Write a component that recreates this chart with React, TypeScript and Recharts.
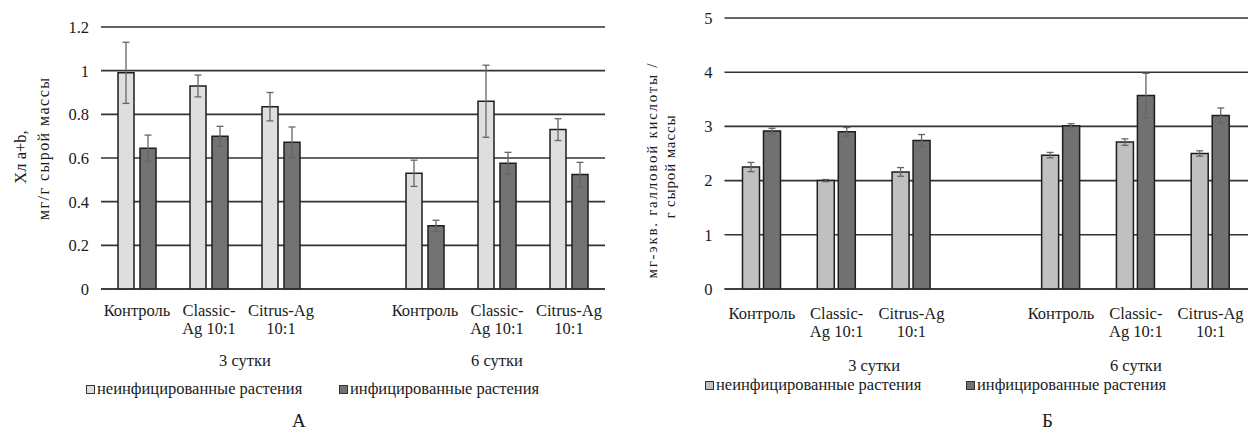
import React from "react";
import { BarChart, Bar, XAxis, YAxis, CartesianGrid, ErrorBar, Label } from "recharts";

// categories (index 3 is the empty spacer slot between the two days)
const tickLabels: string[][] = [
  ["Контроль"],
  ["Classic-", "Ag 10:1"],
  ["Citrus-Ag", "10:1"],
  [],
  ["Контроль"],
  ["Classic-", "Ag 10:1"],
  ["Citrus-Ag", "10:1"],
];
const groups = [
  { label: "3 сутки", from: 0, to: 3 },
  { label: "6 сутки", from: 4, to: 6 },
];
const seriesNames = ["неинфицированные растения", "инфицированные растения"];

// A: chlorophyll a+b, mg/g fresh mass
const chlUninf = [0.99, 0.93, 0.835, null, 0.53, 0.86, 0.73];
const chlUninfErr = [0.14, 0.05, 0.065, null, 0.06, 0.165, 0.05];
const chlInf = [0.645, 0.7, 0.672, null, 0.29, 0.576, 0.524];
const chlInfErr = [0.06, 0.045, 0.07, null, 0.025, 0.05, 0.056];
const chlTicks = [0, 0.2, 0.4, 0.6, 0.8, 1, 1.2];

// Б: phenolics, mg gallic acid eq / g fresh mass
const phUninf = [2.25, 2.0, 2.16, null, 2.47, 2.71, 2.5];
const phUninfErr = [0.085, 0.02, 0.08, null, 0.05, 0.06, 0.05];
const phInf = [2.915, 2.9, 2.74, null, 3.01, 3.57, 3.2];
const phInfErr = [0.05, 0.08, 0.11, null, 0.04, 0.41, 0.14];
const phTicks = [0, 1, 2, 3, 4, 5];

const FONT = "'Liberation Serif', 'Times New Roman', serif";
const TEXT = "#1a1a1a";
const GRID = "#333";
const FS = 16.5;

function rows(u: any[], ue: any[], i: any[], ie: any[]) {
  return tickLabels.map((_, k) => ({ cat: "c" + k, u: u[k], ue: ue[k], i: i[k], ie: ie[k] }));
}

function CatTick(props: any) {
  const { x, y, payload, band, shift = 0, groupShift = 0 } = props;
  const idx = parseInt(String(payload.value).slice(1), 10);
  const lines = tickLabels[idx] || [];
  const g = groups.find((gr) => Math.floor((gr.from + gr.to) / 2) === idx);
  return (
    <g fontFamily={FONT} fontSize={FS} fill={TEXT}>
      <text x={x} y={y + shift} textAnchor="middle">
        {lines.map((l, j) => (
          <tspan key={j} x={x} dy={j === 0 ? 19 : 18}>
            {l}
          </tspan>
        ))}
      </text>
      {g && (
        <text x={x + ((g.from + g.to) / 2 - idx) * band} y={y + 69 + groupShift} textAnchor="middle">
          {g.label}
        </text>
      )}
    </g>
  );
}

function YTitle({ viewBox, lines, offsets, centers, sizes, lengths }: any) {
  return (
    <g fontFamily={FONT} fill={TEXT}>
      {lines.map((l: string, j: number) => {
        const tx = viewBox.x + offsets[j];
        const cy = centers[j];
        return (
          <text key={j} x={tx} y={cy} fontSize={sizes[j]} textAnchor="middle" textLength={lengths[j]}
            transform={`rotate(-90 ${tx} ${cy})`}>
            {l}
          </text>
        );
      })}
    </g>
  );
}

function LegendRow({ top, lefts, colors }: { top: number; lefts: number[]; colors: string[] }) {
  return (
    <>
      {seriesNames.map((n, k) => (
        <div key={n} style={{ position: "absolute", left: lefts[k], top, display: "flex", alignItems: "center", fontFamily: FONT, fontSize: FS, color: TEXT, whiteSpace: "nowrap", lineHeight: "18px" }}>
          <span style={{ width: 7, height: 7, border: "1.3px solid #333", background: colors[k], marginRight: 2, display: "inline-block" }} />
          <span>{n}</span>
        </div>
      ))}
    </>
  );
}

const colorsA = ["#dedede", "#737373"];
const colorsB = ["#c0c0c0", "#717171"];

export default function App() {
  const dataA = rows(chlUninf, chlUninfErr, chlInf, chlInfErr);
  const dataB = rows(phUninf, phUninfErr, phInf, phInfErr);
  const bandA = 504 / 7;
  const bandB = 523.5 / 7;
  return (
    <div style={{ position: "absolute", left: 0, top: 0, width: 1248, height: 433, background: "#fff", overflow: "hidden" }}>
      <div style={{ position: "absolute", left: 0, top: 0 }}>
        <BarChart width={620} height={433} data={dataA} margin={{ top: 27, right: 15, left: 61, bottom: 64 }} barGap={6}>
          <CartesianGrid vertical={false} stroke={GRID} strokeWidth={1.6} />
          <XAxis dataKey="cat" interval={0} height={80} tickLine={false} axisLine={{ stroke: GRID, strokeWidth: 1.6 }} tick={<CatTick band={bandA} />} />
          <YAxis width={40} domain={[0, 1.2]} ticks={chlTicks} axisLine={false} tickLine={false} tickMargin={6}
            tick={{ fontFamily: FONT, fontSize: FS, fill: TEXT }}>
            <Label content={(p: any) => (
              <YTitle {...p} lines={["Хл a+b,", "мг/г сырой массы"]} offsets={[-35, -12]} centers={[157, 149]} sizes={[16.5, 16]} lengths={[undefined, 142]} />
            )} />
          </YAxis>
          <Bar dataKey="u" fill={colorsA[0]} stroke="#1e1e1e" strokeWidth={1.5} barSize={16} isAnimationActive={false}>
            <ErrorBar dataKey="ue" width={3.5} stroke="#666" strokeWidth={1.3} />
          </Bar>
          <Bar dataKey="i" fill={colorsA[1]} stroke="#1e1e1e" strokeWidth={1.5} barSize={16} isAnimationActive={false}>
            <ErrorBar dataKey="ie" width={3.5} stroke="#666" strokeWidth={1.3} />
          </Bar>
        </BarChart>
      </div>
      <div style={{ position: "absolute", left: 620, top: 0 }}>
        <BarChart width={628} height={433} data={dataB} margin={{ top: 18, right: 0, left: 64.5, bottom: 64 }} barGap={4}>
          <CartesianGrid vertical={false} stroke={GRID} strokeWidth={1.6} />
          <XAxis dataKey="cat" interval={0} height={80} tickLine={false} axisLine={{ stroke: GRID, strokeWidth: 1.6 }}
            tick={<CatTick band={bandB} shift={3} groupShift={5} />} />
          <YAxis width={40} domain={[0, 5]} ticks={phTicks} axisLine={false} tickLine={false} tickMargin={6}
            tick={{ fontFamily: FONT, fontSize: FS, fill: TEXT }}>
            <Label content={(p: any) => (
              <YTitle {...p} lines={["мг-экв. галловой кислоты /", "г сырой массы"]} offsets={[-28, -10]} centers={[171, 167]} sizes={[15, 15]} lengths={[215, 103]} />
            )} />
          </YAxis>
          <Bar dataKey="u" fill={colorsB[0]} stroke="#1e1e1e" strokeWidth={1.5} barSize={17} isAnimationActive={false}>
            <ErrorBar dataKey="ue" width={3.5} stroke="#666" strokeWidth={1.3} />
          </Bar>
          <Bar dataKey="i" fill={colorsB[1]} stroke="#1e1e1e" strokeWidth={1.5} barSize={17} isAnimationActive={false}>
            <ErrorBar dataKey="ie" width={3.5} stroke="#666" strokeWidth={1.3} />
          </Bar>
        </BarChart>
      </div>
      <LegendRow top={380} lefts={[86, 339]} colors={colorsA} />
      <LegendRow top={376} lefts={[705, 966]} colors={colorsB} />
      <div style={{ position: "absolute", left: 292, top: 410, fontFamily: FONT, fontSize: 19, color: TEXT }}>А</div>
      <div style={{ position: "absolute", left: 1042, top: 410, fontFamily: FONT, fontSize: 19, color: TEXT }}>Б</div>
    </div>
  );
}
